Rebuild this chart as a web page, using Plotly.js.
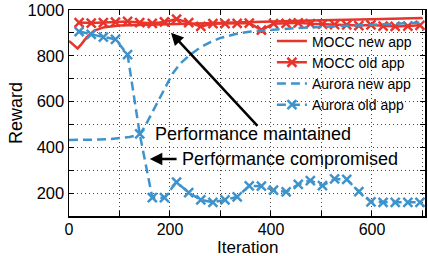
<!DOCTYPE html>
<html>
<head>
<meta charset="utf-8">
<script src="https://cdn.plot.ly/plotly-3.0.1.min.js"></script>
<style>html,body{margin:0;padding:0;background:#fff;}#chart{width:428px;height:256px;}</style>
</head>
<body>
<div id="chart"></div>
<script>
// MOCC new app (line only)
const moccNewX = [0, 8, 17, 25, 35, 50, 70, 100, 150, 200, 250, 300, 400, 500, 600, 700];
const moccNewY = [865, 848, 832, 852, 880, 910, 925, 932, 935, 940, 943, 946, 951, 955, 960, 965];

// marker iterations (old app tests)
const oldX = [20, 44, 68, 92, 116, 140, 165, 189, 213, 237, 261, 285, 309, 333, 357, 381, 405, 430, 454, 478, 502, 526, 550, 574, 598, 622, 646, 671, 695];

// MOCC old app
const moccOldY = [945, 943, 945, 947, 950, 945, 942, 948, 960, 945, 928, 940, 940, 942, 943, 912, 940, 942, 944, 940, 938, 936, 935, 932, 935, 930, 928, 930, 933];

// Aurora new app (dashed line)
const auroraNewX = [0, 20, 40, 60, 80, 100, 120, 140, 150, 160, 175, 190, 205, 220, 240, 260, 280, 300, 330, 360, 400, 450, 500, 550, 600, 650, 700];
const auroraNewY = [432, 432, 433, 434, 436, 439, 445, 456, 490, 532, 595, 658, 722, 765, 805, 836, 860, 878, 895, 906, 914, 921, 926, 931, 936, 940, 945];

// Aurora old app
const auroraOldY = [906, 893, 882, 872, 805, 459, 180, 180, 248, 202, 170, 160, 170, 184, 232, 230, 213, 205, 238, 255, 233, 262, 260, 207, 162, 160, 160, 160, 160];

const xTickVals = [0, 100, 200, 300, 400, 500, 600, 700];
const xTickText = ['0', '', '200', '', '400', '', '600', ''];
const yTickVals = [100, 200, 300, 400, 500, 600, 700, 800, 900, 1000];
const yTickText = ['', '200', '', '400', '', '600', '', '800', '', '1000'];

const RED = '#e8342a';
const BLUE = '#3f93cc';
const FONT = 'Liberation Sans, Arial, Helvetica, sans-serif';

const traces = [
  {x: moccNewX, y: moccNewY, name: 'MOCC new app', mode: 'lines',
   line: {color: RED, width: 2.5}},
  {x: oldX, y: moccOldY, name: 'MOCC old app', mode: 'lines+markers',
   line: {color: RED, width: 2.5},
   marker: {symbol: 'x-thin-open', size: 9, color: RED, line: {color: RED, width: 2.5}}},
  {x: auroraNewX, y: auroraNewY, name: 'Aurora new app', mode: 'lines',
   line: {color: BLUE, width: 2.5, dash: '9px,5px'}},
  {x: oldX, y: auroraOldY, name: 'Aurora old app', mode: 'lines+markers',
   line: {color: BLUE, width: 2.5, dash: '9px,5px'},
   marker: {symbol: 'x-thin-open', size: 9, color: BLUE, line: {color: BLUE, width: 2.5}}}
];

const axisCommon = {
  showline: true, linecolor: '#000', linewidth: 1.5, mirror: 'ticks',
  ticks: 'inside', ticklen: 5, tickwidth: 1, tickcolor: '#000',
  showgrid: true, gridcolor: '#444', gridwidth: 1, griddash: '1px,3px',
  zeroline: false, tickmode: 'array',
  tickfont: {family: FONT, size: 16.5, color: '#000'}
};

const layout = {
  width: 428, height: 256,
  margin: {l: 69, r: 3, t: 10, b: 40},
  paper_bgcolor: '#fff', plot_bgcolor: '#fff',
  font: {family: FONT, color: '#000'},
  showlegend: true,
  legend: {x: 0.57, y: 0.925, xanchor: 'left', yanchor: 'top',
    bgcolor: 'rgba(0,0,0,0)', borderwidth: 0,
    font: {family: FONT, size: 14, color: '#000'}},
  xaxis: Object.assign({}, axisCommon, {
    range: [0, 705], tickvals: xTickVals, ticktext: xTickText,
    tickfont: {family: FONT, size: 16, color: '#000'},
    ticklabelstandoff: -2
  }),
  yaxis: Object.assign({}, axisCommon, {
    range: [100, 1000], tickvals: yTickVals, ticktext: yTickText,
    title: {text: 'Reward', font: {family: FONT, size: 18, color: '#000'}, standoff: 0}
  }),
  annotations: [
    {x: 0.5, y: -0.152, xref: 'paper', yref: 'paper', xanchor: 'center', yanchor: 'middle',
     text: 'Iteration', showarrow: false, borderpad: 0,
     font: {family: FONT, size: 17, color: '#000'}},
    {x: 202, y: 901, ax: 376, ay: 487, xref: 'x', yref: 'y', axref: 'x', ayref: 'y',
     text: '', showarrow: true, arrowhead: 2, arrowsize: 1, arrowwidth: 2.5, arrowcolor: '#000', standoff: 0},
    {x: 160, y: 349, ax: 216, ay: 349, xref: 'x', yref: 'y', axref: 'x', ayref: 'y',
     text: '', showarrow: true, arrowhead: 2, arrowsize: 1, arrowwidth: 2.5, arrowcolor: '#000', standoff: 0},
    {x: 166, y: 460, xref: 'x', yref: 'y', xanchor: 'left', yanchor: 'middle',
     text: 'Performance maintained', showarrow: false,
     font: {family: FONT, size: 18, color: '#000'}},
    {x: 220, y: 350, xref: 'x', yref: 'y', xanchor: 'left', yanchor: 'middle',
     text: 'Performance compromised', showarrow: false,
     font: {family: FONT, size: 18, color: '#000'}}
  ]
};

Plotly.newPlot('chart', traces, layout, {staticPlot: true, displayModeBar: false});
</script>
</body>
</html>
